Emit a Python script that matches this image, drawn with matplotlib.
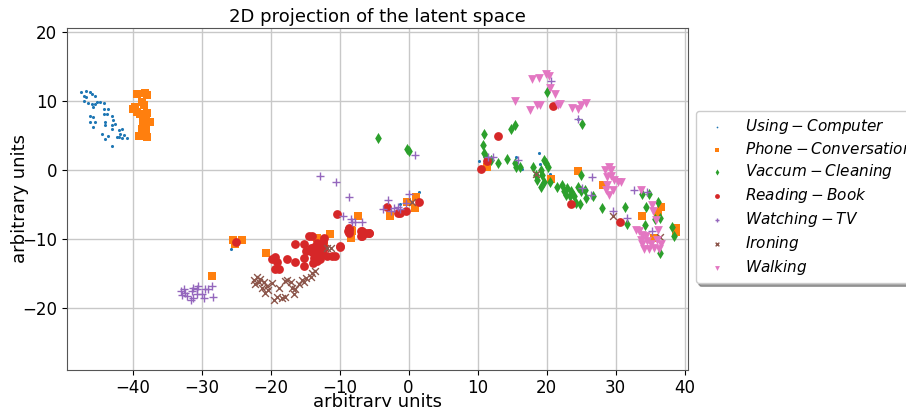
import matplotlib
matplotlib.use("Agg")
import matplotlib.pyplot as plt

labels = ["$Using-Computer$", "$Phone-Conversation$", "$Vaccum-Cleaning$",
          "$Reading-Book$", "$Watching-TV$", "$Ironing$", "$Walking$"]

using_x = [-47.4, -46.7, -46.2, -47.0, -46.7, -45.9, -45.4, -47.1, -46.4, -45.9, -45.4, -45.2, -44.7, -44.2,
           -45.7, -44.2, -43.5, -46.2, -45.7, -44.2, -43.7, -43.0, -46.2, -45.4, -44.0, -42.8, -45.7, -44.0,
           -43.0, -42.5, -42.0, -41.6, -43.0, -41.8, -41.3, -42.0, -40.8, -44.5, -43.5, -44.0, -43.0, -42.3,
           -41.6, -25.8, -9.1, -7.2, -1.2, 1.5, 10.2, 15.1, 15.5, 16.5, 18.9, 19.0, 20.5, 24.5]
using_y = [11.3, 11.5, 11.3, 10.8, 10.6, 11.1, 10.8, 10.0, 9.7, 9.6, 9.6, 9.9, 9.9, 9.7,
           9.2, 8.9, 8.8, 7.9, 7.7, 8.2, 8.2, 7.9, 7.0, 7.0, 7.0, 7.2, 6.2, 6.5,
           6.5, 6.7, 5.8, 6.0, 6.0, 5.3, 5.1, 4.8, 4.6, 5.3, 4.9, 4.5, 3.5, 4.8,
           4.7, -11.5, -8.4, -9.1, -4.9, -3.2, 1.3, 6.3, 1.9, 0.1, 2.5, 0.9, -0.6, 7.4]

phone_x = [-39.4, -38.2, -37.9, -38.7, -38.3, -39.9, -39.3, -38.9, -37.9, -38.0, -37.4, -38.5, -38.2, -38.7,
           -38.0, -39.0, -37.9, -39.6, -25.4, -24.1, -25.1, -28.5, -20.7, -13.3, -11.4, -12.3, -8.3, -8.4,
           -7.3, -8.2, -2.7, -0.2, 1.1, 1.0, 11.4, 20.6, 24.6, 28.2, 33.8, 36.6, 36.1, 38.7, 38.7, 35.6]
phone_y = [11.1, 11.2, 10.9, 9.9, 9.4, 8.9, 8.4, 8.2, 8.3, 7.5, 7.0, 7.0, 6.2, 6.0,
           5.8, 4.9, 4.8, 9.2, -10.1, -10.1, -10.8, -15.4, -12.1, -9.9, -9.3, -10.5, -8.7, -9.9,
           -6.7, -8.8, -6.6, -4.7, -3.9, -5.5, 0.5, -1.3, -0.2, -2.1, -6.6, -5.3, -6.2, -8.4, -9.0, -9.9]

vac_x = [20.1, 25.2, 14.8, 15.4, 11.0, 10.8, 10.9, 11.2, 11.9, 13.0, 14.2, 15.4, 15.5, 16.2, 18.1, 19.6,
         19.9, 20.2, 19.2, 18.4, 19.4, 18.6, 19.6, 19.2, 20.5, 21.5, 22.3, 22.5, 23.0, 22.8, 23.5, 24.0,
         24.5, 25.0, 24.2, 24.9, 25.6, 25.7, 26.7, 25.0, 28.1, 23.4, 31.4, 31.7, 33.8, 34.4, 34.3, 35.7,
         36.4, 36.2, 38.2, 38.5, 36.4, 34.9, -4.5, -0.2, 0.1]
vac_y = [11.4, 6.7, 6.0, 6.6, 5.2, 3.6, 2.5, 1.9, 1.4, 1.0, 1.6, 1.0, 0.4, 0.5, 0.5, 1.4,
         1.0, 0.5, 0.0, -0.7, -0.7, -1.4, -1.7, -2.4, -1.7, -2.4, -2.2, -3.1, -2.6, -3.6, -3.1, -3.8,
         -2.4, -3.1, -4.8, -4.9, -2.9, -4.0, -3.8, -0.7, -5.5, -3.8, -5.4, -7.8, -3.5, -5.3, -8.0, -7.1,
         -7.0, -4.7, -8.2, -9.6, -12.0, -3.4, 4.7, 3.0, 2.8]

read_x = [-25.0, -19.8, -19.4, -19.0, -19.3, -18.8, -17.6, -16.4, -16.4, -15.2, -14.9, -15.1, -15.2, -14.5,
          -14.0, -14.2, -13.7, -14.0, -13.5, -13.7, -13.8, -13.3, -13.0, -12.8, -13.3, -12.8, -12.3, -12.3,
          -12.5, -11.8, -11.1, -10.6, -9.9, -8.7, -8.7, -6.9, -6.2, -5.8, -6.9, -12.4, -10.4, -8.7, -8.8,
          -6.8, -5.8, -6.7, -9.9, -3.1, -1.6, -1.2, -0.3, 1.5, 13.0, 11.4, 10.5, 21.0, 23.5, 30.7]
read_y = [-10.5, -12.9, -12.6, -13.4, -14.3, -14.3, -12.9, -10.8, -13.4, -10.8, -11.8, -12.7, -13.9, -9.6,
          -9.5, -11.3, -11.1, -11.9, -11.8, -12.7, -13.5, -13.2, -12.3, -12.9, -10.6, -11.3, -9.9, -11.3,
          -11.9, -12.5, -12.5, -12.4, -11.0, -8.7, -9.1, -8.9, -9.1, -9.1, -9.5, -10.5, -6.4, -8.4, -8.9,
          -8.9, -9.2, -9.6, -11.1, -5.4, -6.3, -6.3, -6.0, -4.7, 4.9, 1.3, 0.2, 9.3, -4.9, -7.6]

tv_x = [-33.0, -32.6, -32.4, -32.9, -32.1, -31.4, -31.2, -30.7, -31.2, -30.6, -30.0, -29.7, -29.5, -29.0,
        -28.5, -28.4, -30.5, -31.6, -12.9, -10.5, -8.6, -9.5, -8.4, -7.7, -6.7, -8.2, -3.0, -3.7, -2.1,
        -1.6, -1.2, 0.0, -0.4, -2.6, 1.0, 20.6, 24.6, 11.5, 12.2, 15.8, 25.1, 26.6, 26.4, 29.7, 32.7,
        34.6, 31.7, 35.3]
tv_y = [-17.6, -17.3, -17.9, -18.2, -18.3, -17.6, -17.1, -17.3, -18.6, -18.0, -18.0, -18.6, -17.3, -17.3,
        -16.8, -18.4, -16.8, -18.8, -0.9, -1.8, -3.9, -6.7, -7.1, -7.5, -7.5, -7.6, -4.4, -5.7, -5.5,
        -5.3, -5.7, -3.5, -4.8, -6.0, 2.2, 13.0, 7.4, 1.9, 1.9, 1.5, -2.6, -1.0, -3.6, -5.9, -2.9,
        -3.2, -6.9, -8.9]

iron_x = [-22.4, -22.0, -21.5, -22.2, -21.7, -21.0, -21.2, -20.5, -20.3, -20.8, -19.8, -19.5, -19.1, -18.8,
          -18.4, -17.9, -17.9, -17.6, -17.1, -16.9, -16.6, -16.4, -15.9, -15.4, -15.2, -14.9, -14.2, -14.0,
          -13.5, -11.8, -11.3, 0.5, 18.4, 29.7, 36.4]
iron_y = [-15.9, -15.5, -15.8, -16.6, -16.3, -16.3, -17.1, -16.8, -17.4, -17.8, -16.4, -18.8, -18.4, -17.1,
          -18.6, -18.4, -16.1, -15.9, -16.3, -17.1, -18.0, -17.3, -16.6, -15.9, -16.3, -15.6, -15.5, -14.9,
          -14.7, -11.3, -11.3, -4.7, -0.6, -6.7, -9.7]

walk_x = [17.9, 18.9, 19.9, 20.4, 20.5, 21.2, 15.4, 17.6, 18.6, 19.0, 21.6, 21.9, 23.7, 24.6, 25.0, 25.7,
          28.4, 29.1, 29.4, 28.8, 29.4, 29.8, 30.3, 30.8, 28.6, 29.1, 29.6, 28.8, 35.3, 35.4, 35.8, 32.9,
          33.4, 33.9, 34.4, 33.7, 33.9, 34.6, 35.1, 34.1, 35.6, 36.1, 36.6, 36.3, 34.9, 36.0, 33.7]
walk_y = [13.2, 13.3, 13.9, 13.7, 11.9, 11.0, 10.1, 8.7, 9.4, 9.5, 9.4, 9.6, 9.0, 8.8, 9.4, 9.7,
          0.0, 0.5, 0.0, -1.0, -0.9, -1.4, -1.7, -1.7, -2.9, -3.6, -2.9, -2.2, -5.0, -6.0, -7.2, -8.7,
          -8.9, -9.4, -9.5, -10.1, -10.8, -10.3, -10.8, -11.5, -11.3, -8.7, -10.8, -11.5, -11.5, -10.1, -2.9]

series = [(using_x, using_y), (phone_x, phone_y), (vac_x, vac_y), (read_x, read_y),
          (tv_x, tv_y), (iron_x, iron_y), (walk_x, walk_y)]
markers = [".", "s", "d", "o", "+", "x", "v"]
sizes = [20, 40, 32, 40, 32, 24, 40]
colors = ["#1f77b4", "#ff7f0e", "#2ca02c", "#d62728", "#9467bd", "#8c564b", "#e377c2"]

fig = plt.figure(figsize=(9.06, 4.07), dpi=100)
ax = fig.add_axes([67/906, 1-369.5/407, (688-67)/906, (369.5-27.5)/407])
for (xs, ys), m, s, c, lab in zip(series, markers, sizes, colors, labels):
    if m in ("+", "x"):
        ax.scatter(xs, ys, marker=m, s=s, c=c, label=lab, linewidths=1.0, zorder=3)
    else:
        ax.scatter(xs, ys, marker=m, s=s, c=c, label=lab, linewidths=0, zorder=3)

ax.set_xlim(-49.5, 40.5)
ax.set_ylim(-28.95, 20.7)
ax.set_xticks([-40, -30, -20, -10, 0, 10, 20, 30, 40])
ax.set_yticks([-20, -10, 0, 10, 20])
ax.grid(True, color="#c8c8c8", linewidth=1.0, zorder=0)
ax.set_axisbelow(True)
ax.tick_params(labelsize=12)
for sp in ax.spines.values():
    sp.set_color("#555555")
ax.set_title("2D projection of the latent space", fontsize=13, pad=4)
ax.set_xlabel("arbitrary units", fontsize=13, labelpad=-3)
ax.set_ylabel("arbitrary units", fontsize=13, labelpad=-5)

leg = ax.legend(loc="upper left", bbox_to_anchor=(696/906, 1-111/407), bbox_transform=fig.transFigure,
                borderaxespad=0, fontsize=11, labelspacing=0.33, markerscale=0.55, frameon=True,
                fancybox=True, shadow=True, framealpha=1, edgecolor="#cccccc")

fig.savefig("out.png", dpi=100)
